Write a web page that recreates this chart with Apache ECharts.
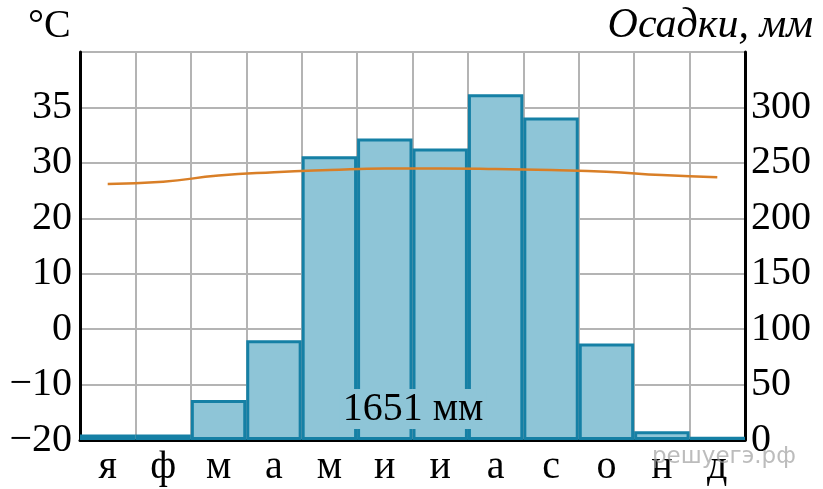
<!DOCTYPE html>
<html><head><meta charset="utf-8">
<script src="https://cdn.jsdelivr.net/npm/echarts@6/dist/echarts.min.js"></script>
<style>html,body{margin:0;padding:0;background:#fff}#c{width:823px;height:489px}</style>
</head><body><div id="c"></div>
<script>
const months = ['я','ф','м','а','м','и','и','а','с','о','н','д'];
const precipitation = [5, 5, 36, 90, 256, 272, 263, 312, 291, 87, 8, 3];
const temperature = [26.2, 26.6, 27.7, 28.3, 28.7, 29.0, 29.0, 28.9, 28.7, 28.4, 27.8, 27.4];
const tempTickLabels = {'-20':'−20','-10':'−10','0':'0','10':'10','20':'20','30':'30','40':'35'};
const precipTickLabels = {'0':'0','50':'50','100':'100','150':'150','200':'200','250':'250','300':'300'};
const totalLabel = '1651 мм';

const FONT = 'Liberation Serif';
const chart = echarts.init(document.getElementById('c'), null, {renderer:'canvas'});
chart.setOption({
  animation:false,
  backgroundColor:'#fff',
  textStyle:{fontFamily:FONT},
  grid:{left:80,right:78,top:52,bottom:49,containLabel:false},
  graphic:[
    {type:'text',left:28,top:6,style:{text:'°C',font:'40px "Liberation Serif"',fill:'#000'}},
    {type:'text',right:10,top:5,style:{text:'Осадки, мм',font:'italic 42px "Liberation Serif"',fill:'#000'}},
    {type:'text',x:413,y:409,z:50,style:{text:totalLabel,font:'40px "Liberation Serif"',fill:'#000',
      align:'center',verticalAlign:'middle',backgroundColor:'#8ec5d7',padding:[0,3]}},
    {type:'text',left:652,top:446,z:100,style:{text:'решуегэ.рф',font:'23px "DejaVu Sans"',fill:'rgba(160,160,160,0.7)'}}
  ],
  xAxis:{type:'category',data:months,
    axisLine:{onZero:false,lineStyle:{color:'#000',width:3}},
    axisTick:{show:false},
    axisLabel:{color:'#000',fontSize:40,fontFamily:FONT,margin:7},
    splitLine:{show:true,interval:0,lineStyle:{color:'#b4b4b4',width:2}}
  },
  yAxis:[
    {type:'value',min:-20,max:50,interval:10,position:'left',
     axisLine:{show:true,lineStyle:{color:'#000',width:3}},
     axisTick:{show:false},
     axisLabel:{color:'#000',fontSize:40,fontFamily:FONT,margin:8,
       formatter:v=>tempTickLabels[String(v)]||''},
     splitLine:{show:true,lineStyle:{color:'#b4b4b4',width:2}}
    },
    {type:'value',min:0,max:350,interval:50,position:'right',
     axisLine:{show:true,lineStyle:{color:'#000',width:3}},
     axisTick:{show:false},
     axisLabel:{color:'#000',fontSize:40,fontFamily:FONT,margin:6,
       formatter:v=>precipTickLabels[String(v)]||''},
     splitLine:{show:false}
    }
  ],
  series:[
    {type:'bar',yAxisIndex:1,data:precipitation,barCategoryGap:0,z:2,
     itemStyle:{color:'#8ec5d7',borderColor:'#1580a5',borderWidth:3}},
    {type:'line',yAxisIndex:0,data:temperature,smooth:true,symbol:'none',z:5,
     lineStyle:{color:'#d97f27',width:2.5}}
  ]
});
</script></body></html>
